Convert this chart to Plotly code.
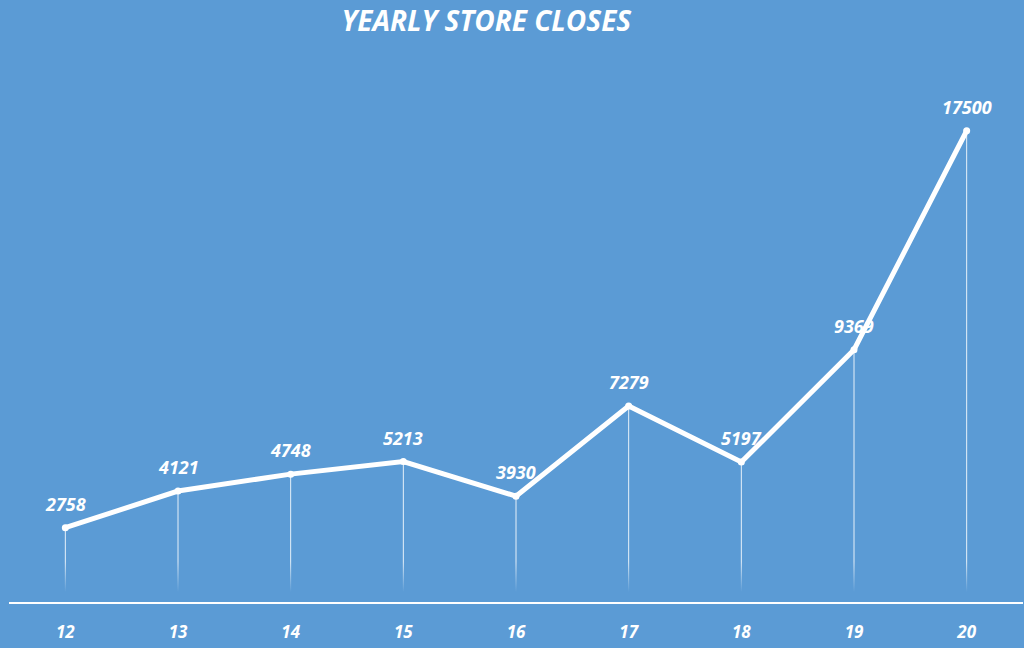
import plotly.graph_objects as go

years = [12, 13, 14, 15, 16, 17, 18, 19, 20]
closes = [2758, 4121, 4748, 5213, 3930, 7279, 5197, 9369, 17500]
tick_labels = ["12", "13", "14", "15", "16", "17", "18", "19", "20"]

BG = "#5B9BD5"
FONT = "Open Sans"

fig = go.Figure()

# drop lines from each point to the axis
fig.add_trace(go.Scatter(
    x=years, y=closes, mode="markers",
    marker=dict(size=1, color="rgba(0,0,0,0)"),
    error_y=dict(type="data", symmetric=False, array=[0] * len(closes),
                 arrayminus=closes, width=0, thickness=1,
                 color="rgba(255,255,255,0.85)"),
    hoverinfo="skip", showlegend=False,
))

# fade-out band at the bottom of the drop lines
fig.add_trace(go.Scatter(
    x=[11.5, 20.5], y=[1500, 1500], mode="lines", line=dict(width=0),
    fill="tozeroy",
    fillgradient=dict(type="vertical",
                      colorscale=[[0, "rgba(91,155,213,1)"],
                                  [0.25, "rgba(91,155,213,1)"],
                                  [1, "rgba(91,155,213,0)"]]),
    hoverinfo="skip", showlegend=False,
))

# main line
fig.add_trace(go.Scatter(
    x=years, y=closes, mode="lines+markers",
    line=dict(color="white", width=5),
    marker=dict(size=7, color="white"),
    showlegend=False,
))

for x, y in zip(years, closes):
    fig.add_annotation(x=x, y=y, text=f"<b><i>{y}</i></b>", showarrow=False,
                       yshift=24, font=dict(family=FONT, size=18, color="white"))

fig.update_layout(
    width=1024, height=648,
    paper_bgcolor=BG, plot_bgcolor=BG,
    margin=dict(l=9, r=1, t=40, b=46),
    title=dict(text="<b><i>YEARLY STORE CLOSES</i></b>", x=482 / 1024, xanchor="center",
               xref="paper", y=1 - 21 / 648, yanchor="middle",
               font=dict(family=FONT, size=28, color="white")),
    xaxis=dict(range=[11.5, 20.5], tickvals=years,
               ticktext=[f"<b><i>{t}</i></b>" for t in tick_labels],
               showgrid=False, zeroline=False, showline=True,
               linecolor="white", linewidth=2,
               ticks="outside", ticklen=14, tickcolor="rgba(0,0,0,0)",
               tickfont=dict(family=FONT, size=17, color="white")),
    yaxis=dict(range=[0, 20870], showgrid=False, zeroline=False,
               showticklabels=False, showline=False),
)

fig.write_html("out.html", config={"displayModeBar": False},
               post_script="document.body.style.margin='0';document.body.style.overflow='hidden';")
